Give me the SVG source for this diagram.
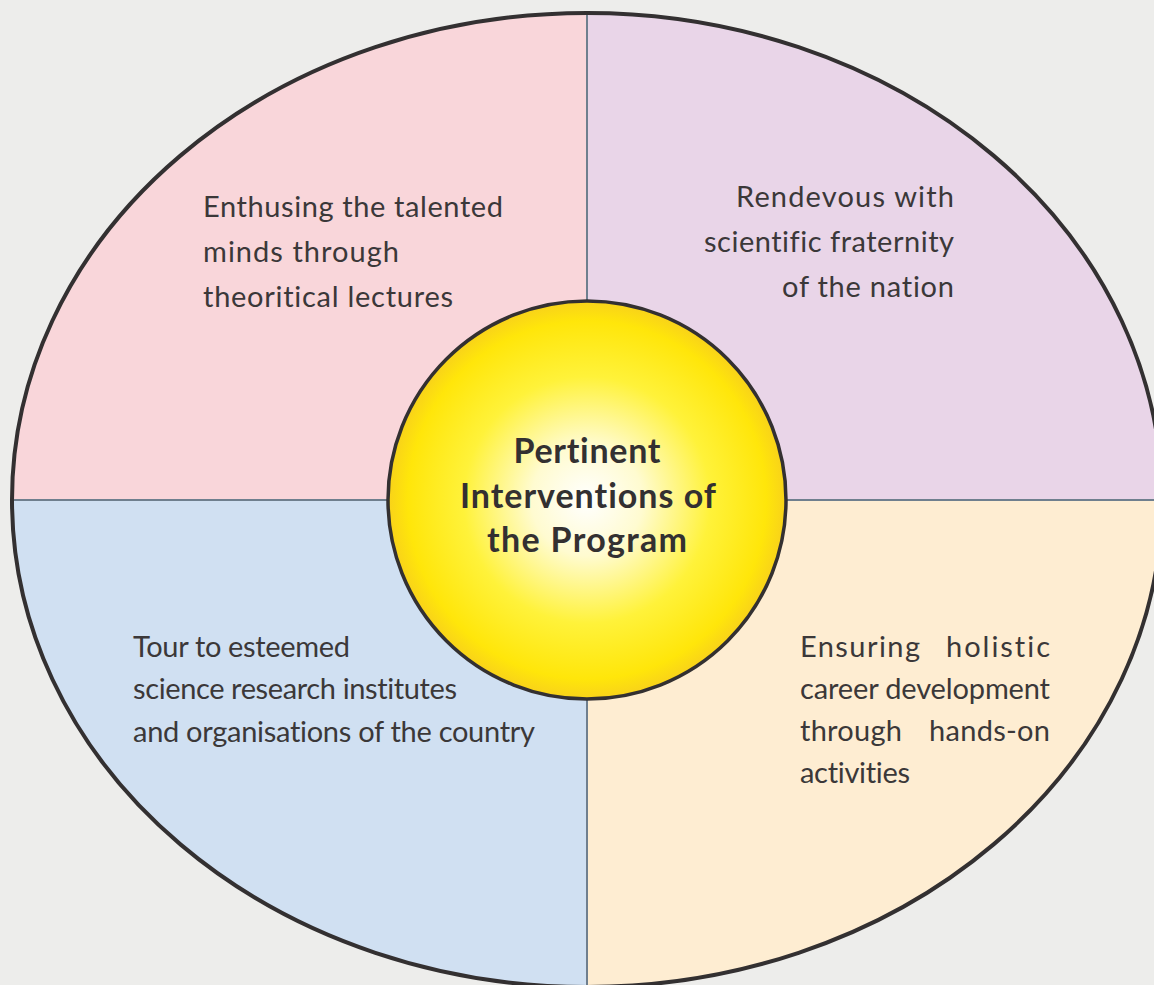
<svg xmlns="http://www.w3.org/2000/svg" width="1154" height="985" viewBox="0 0 1154 985">
<defs>
<radialGradient id="sun" cx="0.5" cy="0.5" r="0.5">
<stop offset="0" stop-color="#ffffff"/>
<stop offset="0.28" stop-color="#fffbd0"/>
<stop offset="0.62" stop-color="#fff23a"/>
<stop offset="0.9" stop-color="#ffe60a"/>
<stop offset="1" stop-color="#f8d21a"/>
</radialGradient>
<clipPath id="ell"><ellipse cx="587" cy="500" rx="575" ry="487"/></clipPath>
</defs>
<style>
.t{font-family:Lato,"Open Sans","Liberation Sans",sans-serif;font-size:29px;fill:#3b3839;font-variant-ligatures:none;}
.c{font-family:Lato,"Open Sans","Liberation Sans",sans-serif;font-size:34px;font-weight:bold;fill:#333031;text-anchor:middle;font-variant-ligatures:none;}
.div{stroke:#6f7f8e;stroke-width:2;fill:none;}
</style>
<rect width="1154" height="985" fill="#ededeb"/>
<g id="quadrants" clip-path="url(#ell)">
<rect id="q-tl" x="0" y="0" width="587" height="500" fill="#f9d6da"/>
<rect id="q-tr" x="587" y="0" width="600" height="500" fill="#e9d5e8"/>
<rect id="q-bl" x="0" y="500" width="587" height="500" fill="#d0e0f2"/>
<rect id="q-br" x="587" y="500" width="600" height="500" fill="#feedd2"/>
</g>
<g id="connectors">
<line class="div" x1="587" y1="13" x2="587" y2="990"/>
<line class="div" x1="12" y1="500" x2="1162" y2="500"/>
</g>
<ellipse cx="587" cy="500" rx="575" ry="487" fill="none" stroke="#333031" stroke-width="4"/>
<g id="node-tl">
<text class="t" x="203" y="217" textLength="300">Enthusing the talented</text>
<text class="t" x="203" y="262" textLength="196">minds through</text>
<text class="t" x="203" y="307" textLength="250">theoritical lectures</text>
</g>
<g id="node-tr">
<text class="t" x="736" y="207" textLength="218">Rendevous with</text>
<text class="t" x="704" y="252" textLength="250">scientific fraternity</text>
<text class="t" x="782" y="297" textLength="172">of the nation</text>
</g>
<g id="node-bl">
<text class="t" x="133" y="657" textLength="217">Tour to esteemed</text>
<text class="t" x="133" y="699" textLength="324">science research institutes</text>
<text class="t" x="133" y="742" textLength="402">and organisations of the country</text>
</g>
<g id="node-br">
<text class="t" x="800" y="657" textLength="120">Ensuring</text>
<text class="t" x="946" y="657" textLength="104">holistic</text>
<text class="t" x="800" y="699" textLength="250">career development</text>
<text class="t" x="800" y="741" textLength="102">through</text>
<text class="t" x="929" y="741" textLength="121">hands-on</text>
<text class="t" x="800" y="783" textLength="110">activities</text>
</g>
<g id="node-center">
<circle cx="587" cy="500" r="199" fill="url(#sun)" stroke="#333031" stroke-width="3.5"/>
<text class="c" x="587" y="463" textLength="147">Pertinent</text>
<text class="c" x="588" y="508" textLength="256">Interventions of</text>
<text class="c" x="587" y="552" textLength="200">the Program</text>
</g>
</svg>
